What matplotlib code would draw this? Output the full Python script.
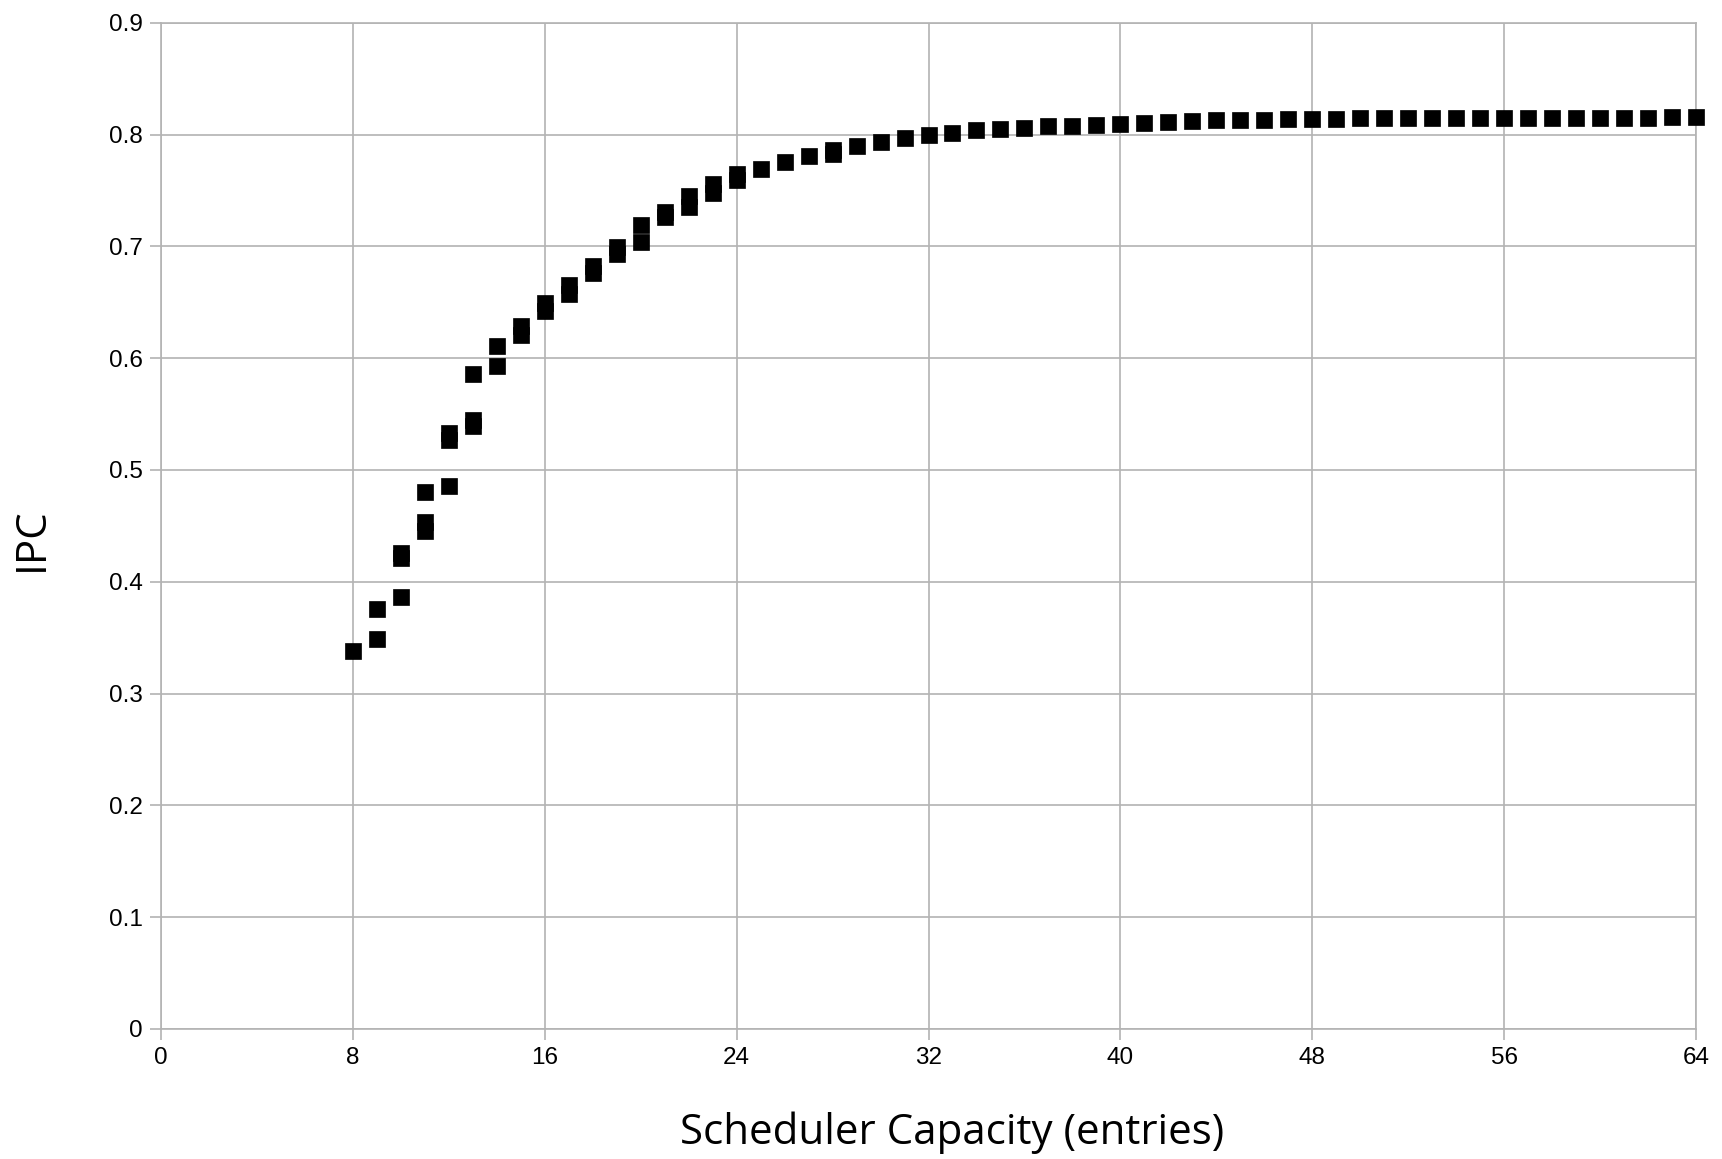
import matplotlib
matplotlib.use("Agg")
import matplotlib.pyplot as plt

capacity = [8, 9, 9, 10, 10, 10, 11, 11, 11, 12, 12, 12, 13, 13, 13,
            14, 14, 15, 15, 16, 16, 17, 17, 18, 18, 19, 19, 20, 20,
            21, 21, 22, 22, 23, 23, 24, 24, 25, 26, 27, 28, 28, 29, 30,
            31, 32, 33, 34, 35, 36, 37, 38, 39, 40, 41, 42, 43, 44, 45,
            46, 47, 48, 49, 50, 51, 52, 53, 54, 55, 56, 57, 58, 59, 60,
            61, 62, 63, 64]
ipc = [0.338, 0.376, 0.3486, 0.3865, 0.421, 0.426, 0.4807, 0.445, 0.453,
       0.486, 0.527, 0.533, 0.5855, 0.539, 0.545,
       0.593, 0.611, 0.6205, 0.629, 0.642, 0.649, 0.657, 0.665, 0.676, 0.682,
       0.693, 0.699, 0.704, 0.7194, 0.726, 0.731, 0.735, 0.745, 0.748, 0.756,
       0.759, 0.765, 0.7694, 0.7753, 0.7808, 0.783, 0.786, 0.790, 0.7932,
       0.7968, 0.7997, 0.8011, 0.8038, 0.8050, 0.8062, 0.8072, 0.8080, 0.8086,
       0.8095, 0.8107, 0.8113, 0.8121, 0.8128, 0.8128, 0.8134, 0.8137, 0.8140,
       0.8141, 0.8146, 0.8146, 0.8146, 0.8147, 0.8147, 0.8147, 0.8147,
       0.8152, 0.8152, 0.8147, 0.8147, 0.8147, 0.8152, 0.8157, 0.8157]

x_ticks = [0, 8, 16, 24, 32, 40, 48, 56, 64]
y_ticks = [0, 0.1, 0.2, 0.3, 0.4, 0.5, 0.6, 0.7, 0.8, 0.9]
y_tick_labels = ["0", "0.1", "0.2", "0.3", "0.4", "0.5", "0.6", "0.7", "0.8", "0.9"]

grid_color = "#b3b3b3"

fig = plt.figure(figsize=(17.22, 11.59), dpi=100)
ax = fig.add_axes([0.0935, 0.1122, 0.8914, 0.8682])

ax.plot(capacity, ipc, linestyle="none", marker="s", markersize=11.5,
        markerfacecolor="black", markeredgecolor="black", markeredgewidth=0.5,
        clip_on=False, zorder=3)

ax.set_xlim(0, 64)
ax.set_ylim(0, 0.9)
ax.set_xticks(x_ticks)
ax.set_xticklabels([str(t) for t in x_ticks])
ax.set_yticks(y_ticks)
ax.set_yticklabels(y_tick_labels)

ax.grid(True, color=grid_color, linewidth=1.2)
ax.set_axisbelow(True)
for s in ax.spines.values():
    s.set_color(grid_color)
    s.set_linewidth(1.2)

ax.tick_params(axis="both", direction="out", length=8, width=1.2,
               color=grid_color, pad=5, labelsize=17.5)
for lbl in ax.get_xticklabels() + ax.get_yticklabels():
    lbl.set_fontfamily("Liberation Sans")

fig.text(0.553, 0.0225, "Scheduler Capacity (entries)", ha="center", va="center",
         fontsize=30.3, family="Open Sans")
fig.text(0.0186, 0.535, "IPC", ha="center", va="center", rotation=90,
         fontsize=30.3, family="Open Sans")

fig.savefig("out.png", dpi=100)
